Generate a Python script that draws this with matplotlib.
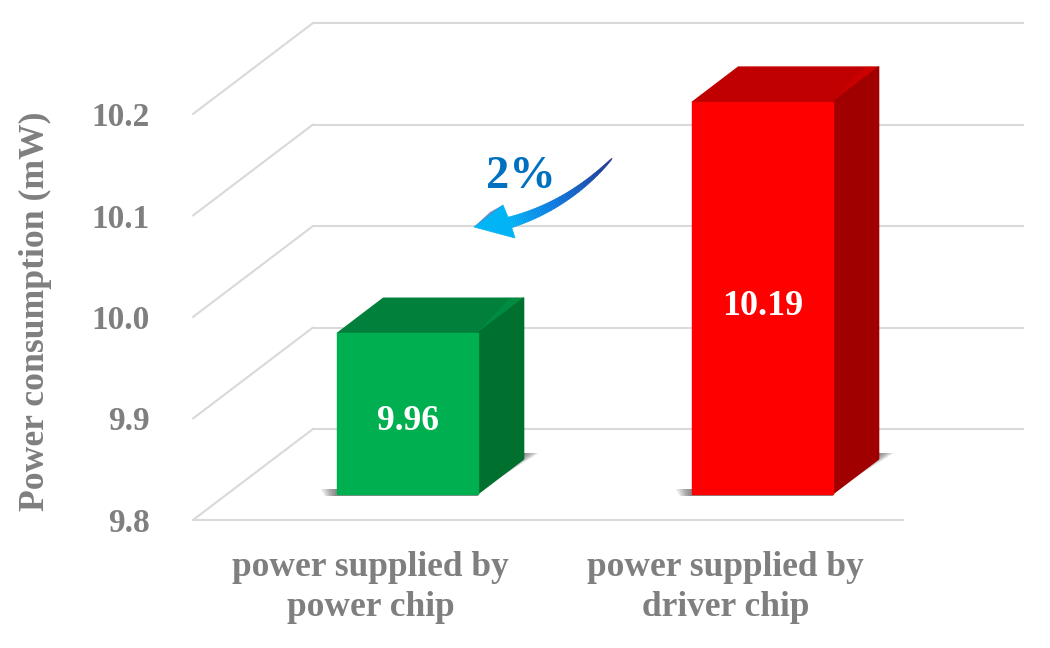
import numpy as np
import matplotlib
matplotlib.use('Agg')
import matplotlib.pyplot as plt
from matplotlib.patches import Polygon
from matplotlib.transforms import Affine2D

categories = ['power supplied by\npower chip', 'power supplied by\ndriver chip']
values = [9.96, 10.19]
value_labels = ['9.96', '10.19']
yticks = [9.8, 9.9, 10.0, 10.1, 10.2]
ytick_labels = ['9.8', '9.9', '10.0', '10.1', '10.2']
ylabel = 'Power consumption (mW)'
change_label = '2%'

front_colors = ['#00b050', '#ff0000']
top_colors = ['#00803a', '#c00000']
top_light = ['#008c40', '#cc0000']
side_colors = ['#00702f', '#a00000']

W, H = 1050, 648
GRAY = '#7f7f7f'
GRID = '#d9d9d9'

plt.rcParams['font.family'] = ['Liberation Serif', 'DejaVu Serif']
plt.rcParams['font.weight'] = 'bold'

fig = plt.figure(figsize=(W / 100, H / 100), dpi=100)


def box(left, top, right, bottom):
    return [left / W, 1 - bottom / H, (right - left) / W, (bottom - top) / H]


# floor front edge plane, carries the tick labels
ax = fig.add_axes(box(193, 114, 903, 520))
ax.set_xlim(-0.5, 1.5)
ax.set_ylim(9.8, 10.2)
ax.patch.set_alpha(0)
for s in ax.spines.values():
    s.set_visible(False)
ax.set_yticks(yticks)
ax.set_yticklabels(ytick_labels, fontsize=24, color=GRAY)
ax.set_xticks([0, 1])
ax.set_xticklabels(categories, fontsize=25.5, color=GRAY, linespacing=1.28)
ax.tick_params(axis='both', length=0)
ax.tick_params(axis='y', pad=31)
ax.tick_params(axis='x', pad=22)
ax.set_ylabel(ylabel, fontsize=25.7, color=GRAY, fontweight='bold')
ax.yaxis.set_label_coords(-141 / 710, 0.515)

# back wall and side wall gridlines
back = ax.transData + Affine2D().translate(120, 91)
for v in yticks:
    ax.plot([-0.5, 1.5], [v, v], color=GRID, lw=1.5, transform=back, clip_on=False, zorder=1)
    x0, y0 = ax.transData.transform((-0.5, v))
    ax.plot([x0, x0 + 120], [y0, y0 + 91], color=GRID, lw=1.5,
            transform=None, clip_on=False, zorder=1, solid_capstyle='round')
ax.plot([-0.5, 1.5], [9.8, 9.8], color=GRID, lw=1.5, clip_on=False, zorder=1)

# bar plane, sits part way back on the floor
ax_bar = fig.add_axes(box(230, 92, 940, 494))
ax_bar.set_xlim(-0.5, 1.5)
ax_bar.set_ylim(9.8, 10.2)
ax_bar.axis('off')
ax_bar.patch.set_alpha(0)

bar_w = 0.395
dx, dy = 46, 35
data_to_px = ax_bar.transData
for i, v in enumerate(values):
    (xl, yb) = data_to_px.transform((i - bar_w / 2, 9.8))
    (xr, yt) = data_to_px.transform((i + bar_w / 2, v))
    # soft shadow on the floor
    for k in range(6):
        e = 1 - k / 6
        ax_bar.add_patch(Polygon([(xl - 16 * e, yb + 5), (xr, yb + 5), (xr, yb - 2), (xl - 12 * e, yb - 2)],
                                 closed=True, transform=None, fc='#404040', ec='none', alpha=0.14,
                                 clip_on=False, zorder=2))
        ax_bar.add_patch(Polygon([(xr + dx, yb + dy + 6), (xr + dx + 15 * e, yb + dy + 6),
                                  (xr + dx - 26, yb + dy - 20)],
                                 closed=True, transform=None, fc='#404040', ec='none', alpha=0.14,
                                 clip_on=False, zorder=2))
    ax_bar.add_patch(Polygon([(xl, yt), (xl + dx, yt + dy), (xr + dx, yt + dy), (xr, yt)], closed=True,
                             transform=None, fc=top_colors[i], ec=top_colors[i], lw=1, joinstyle='round',
                             clip_on=False, zorder=3))
    ax_bar.add_patch(Polygon([(xr, yt), (xr + dx, yt + dy), (xr + dx - 14, yt + dy), (xr + 2, yt + 3)], closed=True,
                             transform=None, fc=top_light[i], ec='none', clip_on=False, zorder=3))
    ax_bar.add_patch(Polygon([(xr, yt), (xr + dx, yt + dy), (xr + dx, yb + dy), (xr, yb)], closed=True,
                             transform=None, fc=side_colors[i], ec=side_colors[i], lw=1, joinstyle='round',
                             clip_on=False, zorder=3))
    ax_bar.bar(i, v - 9.8, bottom=9.8, width=bar_w, color=front_colors[i], edgecolor=front_colors[i],
               lw=1, joinstyle='round', clip_on=False, zorder=4)
    ax_bar.annotate(value_labels[i], (i, (v + 9.8) / 2), xytext=(0, -6), textcoords='offset points',
                    color='white', fontsize=26 if i == 1 else 25.5, ha='center', va='center', zorder=5)

# overlay in image pixels for the curved arrow
ov = fig.add_axes([0, 0, 1, 1])
ov.set_xlim(0, W)
ov.set_ylim(H, 0)
ov.axis('off')
ov.patch.set_alpha(0)

ov.text(521, 177, change_label, color='#0070c0', fontsize=33.5, ha='center', va='center', zorder=7)

P0, P1, P2 = np.array([612, 158.5]), np.array([568, 206]), np.array([508, 223])
ts = np.linspace(0, 1, 70)
c_dark = np.array(matplotlib.colors.to_rgb('#20308f'))
c_mid = np.array(matplotlib.colors.to_rgb('#0a78e0'))
c_head = np.array(matplotlib.colors.to_rgb('#00b4f5'))


def curve(t):
    return (1 - t) ** 2 * P0 + 2 * t * (1 - t) * P1 + t ** 2 * P2


for a, b in zip(ts[:-1], ts[1:]):
    pa, pb = curve(a), curve(b)
    d = pb - pa
    n = np.array([-d[1], d[0]]) / np.hypot(*d)
    wa, wb = 0.3 + 5.4 * a ** 0.7, 0.3 + 5.4 * b ** 0.7
    m = (a + b) / 2
    c = c_dark + (c_mid - c_dark) * (m / 0.6) if m < 0.6 else c_mid + (c_head - c_mid) * ((m - 0.6) / 0.4)
    ov.add_patch(Polygon([pa + n * wa, pb + n * wb, pb - n * wb, pa - n * wa], closed=True,
                         fc=c, ec=c, lw=0.3, zorder=6))

ov.add_patch(Polygon([(474, 227), (503, 205), (510, 222), (515, 238)], closed=True,
                     fc='#00b4f5', ec='#00b4f5', lw=0.5, zorder=6))
ov.add_patch(Polygon([(474, 227), (503, 205), (490, 212)], closed=True, fc='#1c4fa8', ec='none', zorder=6, alpha=0.6))

fig.savefig('out.png', dpi=100, facecolor='white')
